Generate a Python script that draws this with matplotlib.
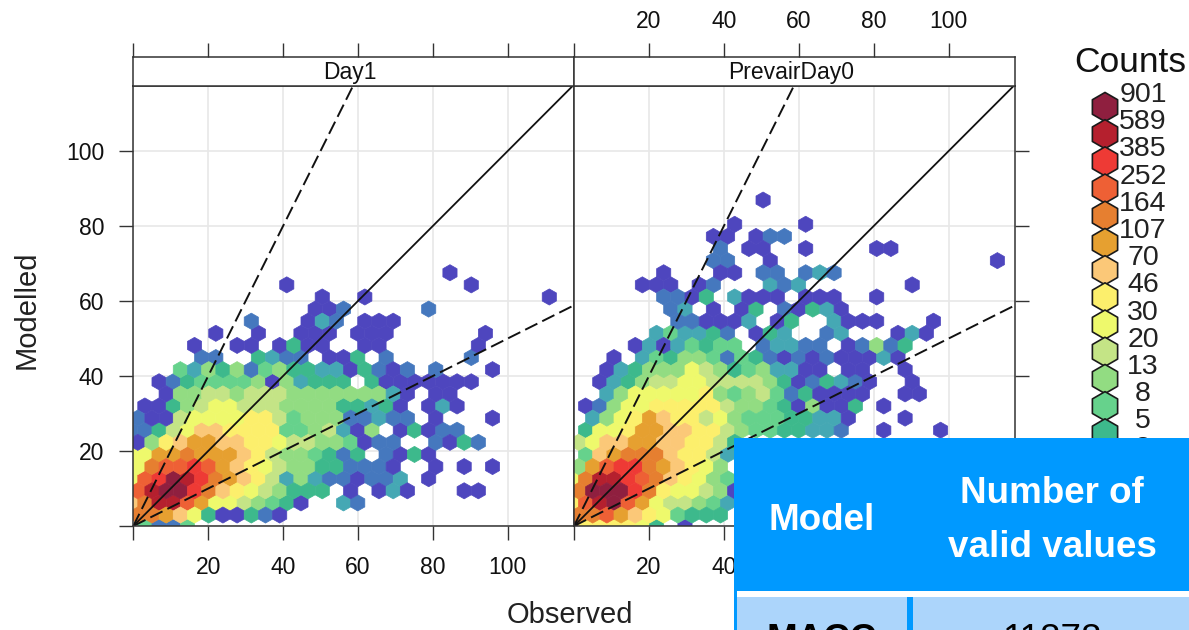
import matplotlib
matplotlib.use('Agg')
import matplotlib.pyplot as plt
from matplotlib.colors import ListedColormap, BoundaryNorm
from matplotlib.patches import Rectangle
import numpy as np

plt.rcParams['font.family'] = ['Liberation Sans', 'DejaVu Sans']

# hexagon cells, one string per hex row from the bottom.
# each char is a colour class of the legend, '.' is an empty cell
day1_rows = [
    ".5225",
    "ccba8411421",
    "acffdb8876541..32",
    "dfggeca9876444.1.131...11",
    "8degfecba97363221223.1",
    "8cddedba98766442221..1.1.1",
    "88bbcbbba97665424.2141",
    "169abbaa99877665122..2142",
    "22478aa99995567316.14122",
    "21178888997566622322.1...1",
    ".1146788777666644341.131",
    "..166776777666666631.11",
    "..12455556163444.41111111",
    "...53646256443314212.2...1",
    ".....22..4322.114.2.....2",
    "....1..11.1411..11......1",
    "......1..1..111.111......1",
    "........2...132.111",
    ".............112.....2",
    ".............1..1............1",
    "...........1............1",
    "......................1",
]

prevair_rows = [
    "g999984.1",
    "ccdba985444",
    "9dfgdb877653",
    "cgggec988761",
    "8cffedca9865",
    "6bdeecba986",
    ".5abccca9973",
    "78aabbaa9974",
    ".4889bbaa99765544332..1...1",
    ".3689ba9978655544331...1",
    ".12688999997665416114.1",
    "..3688888965675241111..11",
    "..13467788777764124321..1",
    "..1346668764563311.11..1",
    "...1.3546652542121211131",
    "....13135455.23322.12624",
    "......353342.143..23...131",
    ".......221113.14..3111...1",
    ".......23.1.14.21431",
    "......2214.3111.111..1",
    ".....111.12...323.......1",
    "......1...11.22.232",
    "..........22..1...............1",
    "..........2.11..1....11",
    "..........11.122",
    "...........1....1",
    "",
    ".............1",
]

level_chars = "123456789abcdefg"
count_levels = [1, 2, 3, 5, 8, 13, 20, 30, 46, 70, 107, 164, 252, 385, 589, 901]
level_colors = ['#4E46BE', '#4578BE', '#45A8B4', '#3DB98C', '#66D28C', '#92DC82',
                '#C4E486', '#EEF96C', '#FCEF6C', '#FBC878', '#E6A030', '#E67F30',
                '#EE6035', '#EE3A35', '#B5202E', '#8F1F3F']
count_edges = [0.5, 1.5, 2.5, 4, 6.5, 10, 16, 25, 38, 58, 88, 135, 208, 318, 487, 745, 1000]

xtick_vals = [0, 20, 40, 60, 80, 100]
ytick_vals = [0, 20, 40, 60, 80, 100]
panel_names = ['Day1', 'PrevairDay0']
table_head = ['Model', 'Number of\nvalid values']
table_row = ['MACC', '11878']

x_max = 117.7
y_max = 117.33
hex_w = 3.79
hex_h = 6.46
x_start = -0.7
y_start = -0.3
grid_nx = 32
grid_ny = 18

W, H = 1189, 630
cmap = ListedColormap(level_colors)
norm = BoundaryNorm(count_edges, 16)


def cells(rows):
    xs, ys, cs = [], [], []
    for j, row in enumerate(rows):
        for i, ch in enumerate(row):
            if ch == '.':
                continue
            xs.append(x_start + (i + 0.5 * (j % 2)) * hex_w)
            ys.append(y_start + j * hex_h / 2)
            cs.append(count_levels[level_chars.index(ch)])
    return np.array(xs), np.array(ys), np.array(cs)


def px_axes(x0, y0, x1, y1):
    return fig.add_axes([x0 / W, 1 - y1 / H, (x1 - x0) / W, (y1 - y0) / H])


fig = plt.figure(figsize=(W / 100, H / 100), dpi=100)

tick_color = '#333333'
panel_x = [(133.3, 574), (574, 1015)]
for n, rows in enumerate([day1_rows, prevair_rows]):
    ax = px_axes(panel_x[n][0], 86, panel_x[n][1], 526)
    ax.grid(True, color='#E8E8E8', linewidth=1.2)
    ax.set_axisbelow(True)
    x, y, c = cells(rows)
    hb = ax.hexbin(x, y, C=c, gridsize=(grid_nx, grid_ny),
                   extent=(x_start, x_start + grid_nx * hex_w, y_start, y_start + grid_ny * hex_h),
                   reduce_C_function=np.max, cmap=cmap, norm=norm, linewidths=0.5, edgecolors='face')
    hb.set_snap(False)
    ax.axline((0, 0), slope=1, color='#111111', linewidth=1.3)
    ax.axline((0, 0), slope=2, color='#111111', linewidth=1.4, dashes=(7, 2.8))
    ax.axline((0, 0), slope=0.5, color='#111111', linewidth=1.4, dashes=(7, 2.8))
    ax.set_xlim(0, x_max)
    ax.set_ylim(0, y_max)
    ax.set_xticks(xtick_vals)
    ax.set_yticks(ytick_vals)
    ax.set_xticklabels(['' if v == 0 else str(v) for v in xtick_vals])
    if n == 0:
        ax.set_yticklabels(['' if v == 0 else str(v) for v in ytick_vals])
        ax.tick_params(axis='y', left=True, right=False)
    else:
        ax.yaxis.tick_right()
        ax.set_yticklabels([])
    ax.tick_params(length=10, width=1.0, labelsize=16.5, color=tick_color, labelcolor='#111111')
    ax.tick_params(axis='x', pad=11.8)
    ax.tick_params(axis='y', pad=11)
    for s in ax.spines.values():
        s.set_linewidth(1.1)
        s.set_color(tick_color)

    strip = px_axes(panel_x[n][0], 57, panel_x[n][1], 86)
    strip.set_xlim(0, x_max)
    strip.set_ylim(0, 1)
    strip.set_yticks([])
    strip.xaxis.tick_top()
    strip.set_xticks(xtick_vals)
    if n == 1:
        strip.set_xticklabels(['' if v == 0 else str(v) for v in xtick_vals])
    else:
        strip.set_xticklabels([])
    strip.tick_params(length=10, width=1.0, labelsize=16.5, pad=7.5, color=tick_color, labelcolor='#111111')
    for s in strip.spines.values():
        s.set_linewidth(1.1)
        s.set_color(tick_color)
    strip.text(0.492, 0.46, panel_names[n], transform=strip.transAxes, ha='center', va='center',
               fontsize=16.5, color='#111111')

# overlay in pixel units for titles, legend and the pasted table
ov = fig.add_axes([0, 0, 1, 1], zorder=5)
ov.set_xlim(0, W)
ov.set_ylim(H, 0)
ov.axis('off')

ov.text(570, 615, 'Observed', ha='center', va='center', fontsize=21, color='#222222')
ov.text(27, 310, 'Modelled', ha='center', va='center', rotation=90, fontsize=21, color='#222222')
ov.text(1130, 62, 'Counts', ha='center', va='center', fontsize=25.5, color='#111111')

# legend goes from the top colour down
leg_y = 107 + 27.2 * np.arange(16)
ov.scatter(np.full(16, 1105), leg_y, s=440, marker='h', c=level_colors[::-1],
           edgecolors='#1a1a1a', linewidths=1.2, zorder=2)
for yy, cnt in zip(leg_y, count_levels[::-1]):
    ov.text(1143, yy - 12, str(cnt), ha='center', va='center', fontsize=20.5, color='#222222', zorder=3)

# table
blue = '#0099FF'
pale = '#ACD5FB'
ov.add_patch(Rectangle((734, 438), W - 734, H - 438, color=blue, lw=0, zorder=10))
ov.add_patch(Rectangle((737, 591), W - 737, 6, color='white', lw=0, zorder=11))
ov.add_patch(Rectangle((737, 597), 170, H - 597, color=pale, lw=0, zorder=11))
ov.add_patch(Rectangle((913, 597), W - 913, H - 597, color=pale, lw=0, zorder=11))
ov.text(822, 521, table_head[0], ha='center', va='center', fontsize=26.5, fontweight='bold',
        color='white', zorder=12)
ov.text(1052, 520.5, table_head[1], ha='center', va='center', fontsize=26.5, fontweight='bold',
        color='white', linespacing=1.68, zorder=12)
ov.text(822, 640, table_row[0], ha='center', va='center', fontsize=26.5, fontweight='bold',
        color='black', zorder=12, clip_on=True)
ov.text(1052, 640, table_row[1], ha='center', va='center', fontsize=26.5,
        color='black', zorder=12, clip_on=True)

fig.savefig('out.png', dpi=100)
